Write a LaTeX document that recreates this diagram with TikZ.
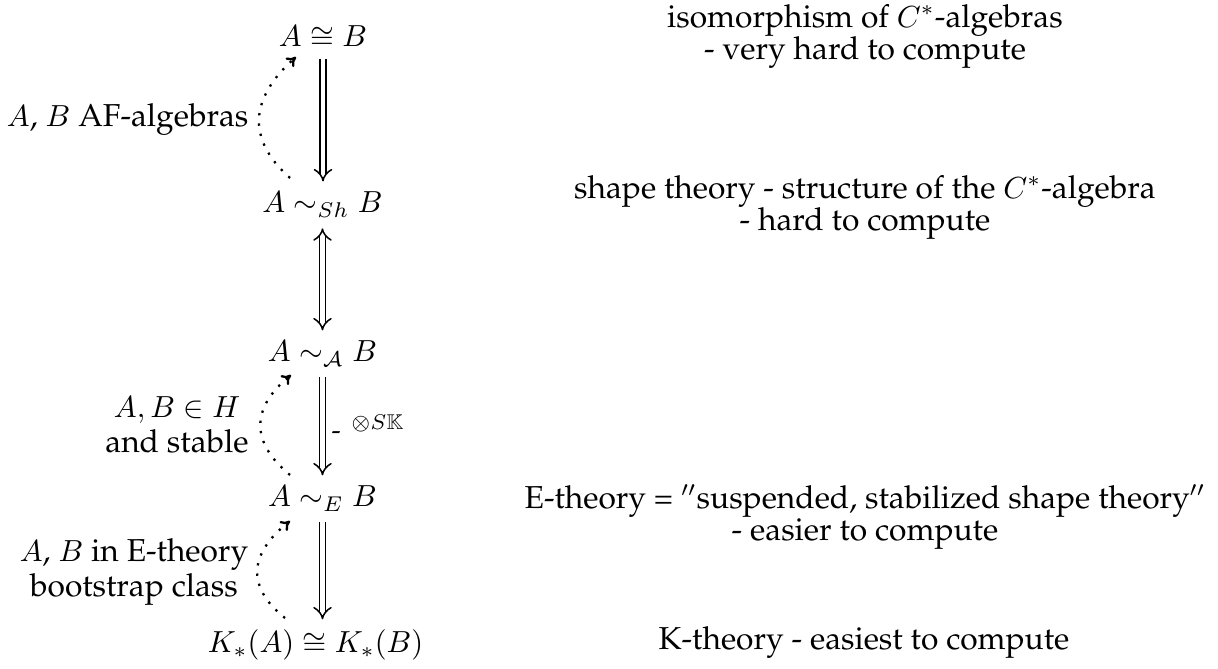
\documentclass[tikz,border=0pt]{standalone}
\usepackage[T1]{fontenc}
\renewcommand{\rmdefault}{ppl}
\usepackage{amssymb}
\usetikzlibrary{arrows.meta}
\newcommand{\dq}{\ensuremath{''}}
\begin{document}
\begin{tikzpicture}[x=0.328pt,y=-0.328pt,
  obj/.style={anchor=base},
  txt/.style={anchor=base,align=center,inner sep=0pt,font=\fontsize{10.4}{10.8}\selectfont},
  ltxt/.style={anchor=base,align=center,inner sep=0pt,font=\fontsize{10.4}{11.6}\selectfont},
  dbl/.style={double,double distance=1.6pt,line width=0.5pt},
  dots/.style={line width=0.75pt,dash pattern=on 0.75pt off 2.65pt,-{To[length=3pt,width=4pt]}}]
\useasboundingbox (0,0) rectangle (1218,669);
% column objects
\node[obj] (iso) at (323,47) {$A\cong B$};
\node[obj] (sh) at (322.5,213) {$A\sim_{Sh} B$};
\node[obj] (ca) at (322.5,362) {$A\sim_{\mathcal{A}} B$};
\node[obj] (e) at (322.5,507) {$A\sim_{E} B$};
\node[obj] (k) at (315.5,653) {$K_*(A)\cong K_*(B)$};
% double arrows
\draw[dbl,-{Implies}] (iso.south) -- (iso.south |- sh.north);
\draw[dbl,{Implies}-{Implies}] (sh.south) -- (sh.south |- ca.north);
\draw[dbl,-{Implies}] (ca.south) -- (ca.south |- e.north);
\draw[dbl,-{Implies}] (e.south) -- (e.south |- k.north);
\node[anchor=base west,inner sep=0pt] (lab) at (331,440) {{\small-}\hspace{3.5pt}\raisebox{3.3pt}{$\scriptstyle\otimes S\mathbb{K}$}};
% dotted arcs
\coordinate (s1) at (290,178); \coordinate (e1) at (296,57);
\coordinate (s2) at (290,475); \coordinate (e2) at (291,375);
\coordinate (s3) at (285,618); \coordinate (e3) at (290,521);
\draw[dots] (s1) .. controls +(-45,-40) and +(-45,40) .. (e1);
\draw[dots] (s2) .. controls +(-40,-33) and +(-40,33) .. (e2);
\draw[dots] (s3) .. controls +(-40,-32) and +(-40,32) .. (e3);
% left labels
\node[ltxt,anchor=base east] (l1) at (249,127) {$A$, $B$ AF-algebras};
\node[ltxt] (l2) at (177,453) {$A, B\in H$\\and stable};
\node[ltxt] (l3) at (134,597) {$A$, $B$ in E-theory\\bootstrap class};
% right descriptions
\node[txt] (t1) at (865,60) {isomorphism of $C^*$-algebras\\- very hard to compute};
\node[txt] (t2) at (865,231) {shape theory - structure of the $C^*$-algebra\\- hard to compute};
\node[txt] (t3) at (865,541) {E-theory = \dq suspended, stabilized shape theory\dq\\- easier to compute};
\node[txt] (t4) at (864,650) {K-theory - easiest to compute};
\end{tikzpicture}
\end{document}
